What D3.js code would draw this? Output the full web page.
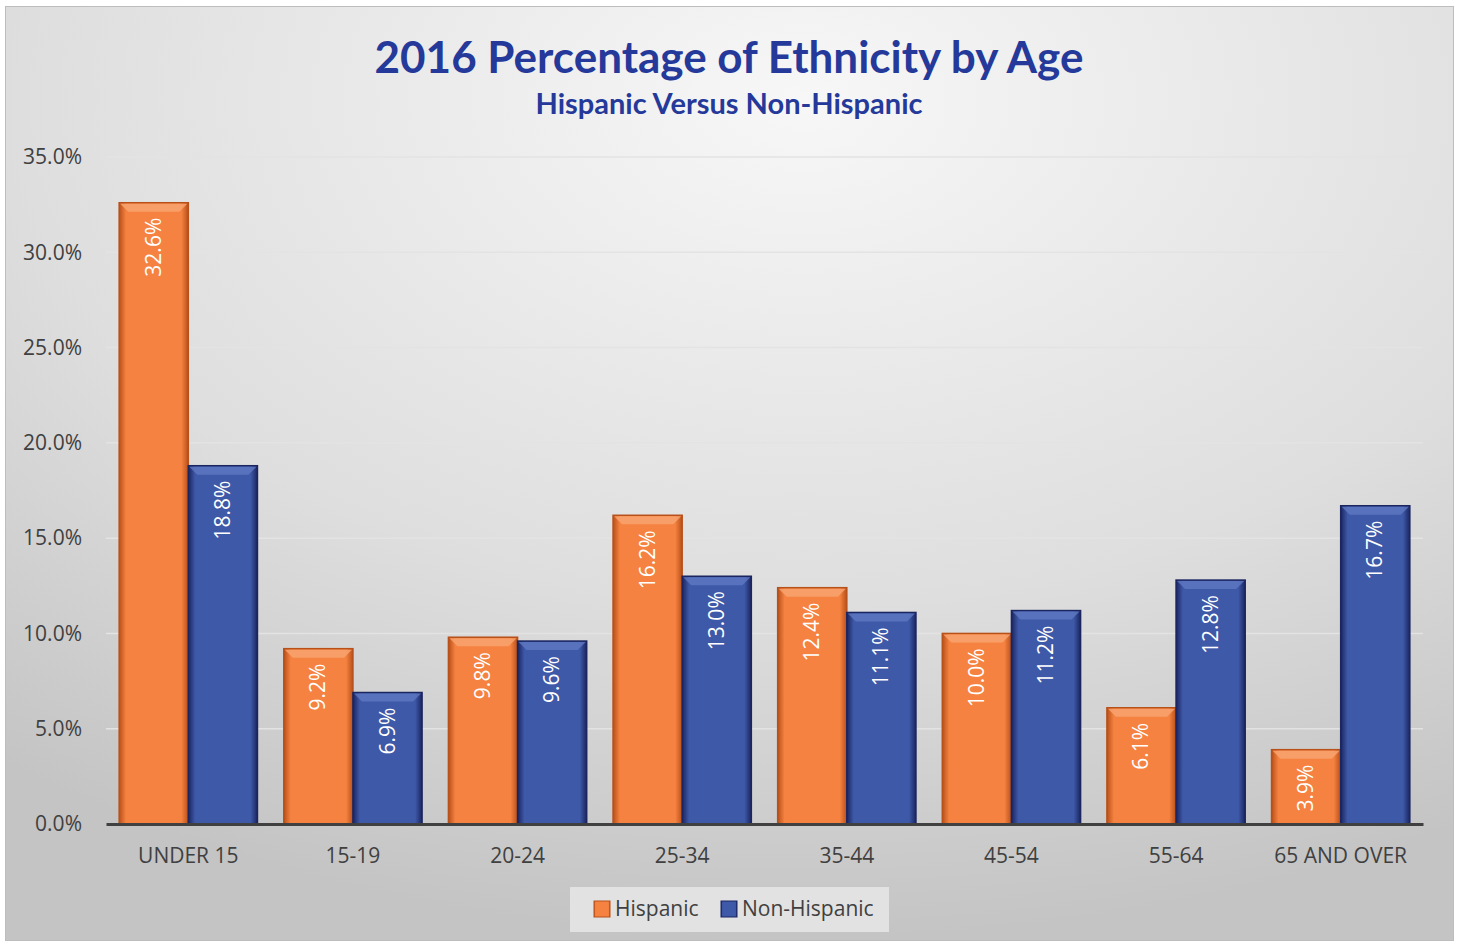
<!DOCTYPE html>
<html>
<head>
<script src="https://d3js.org/d3.v7.min.js"></script>
<style>
  body { margin: 0; background: #fff; }
  .tick text { font-family: "Open Sans", sans-serif; fill: #404040; }
</style>
</head>
<body>
<svg width="1459" height="941"></svg>
<script>
var categories = ["UNDER 15", "15-19", "20-24", "25-34", "35-44", "45-54", "55-64", "65 AND OVER"];
var seriesNames = ["Hispanic", "Non-Hispanic"];
var hispanic = [32.6, 9.2, 9.8, 16.2, 12.4, 10.0, 6.1, 3.9];
var nonHispanic = [18.8, 6.9, 9.6, 13.0, 11.1, 11.2, 12.8, 16.7];
var yTicks = [0, 5, 10, 15, 20, 25, 30, 35];

var svg = d3.select("svg");
var defs = svg.append("defs");

// chart background
var bg = defs.append("radialGradient").attr("id", "bg")
  .attr("cx", "0.55").attr("cy", "0.1").attr("r", "0.9");
bg.append("stop").attr("offset", "0").attr("stop-color", "#f7f7f7");
bg.append("stop").attr("offset", "0.6").attr("stop-color", "#dedede");
bg.append("stop").attr("offset", "1").attr("stop-color", "#c4c4c4");

svg.append("rect").attr("x", 5.5).attr("y", 6.5).attr("width", 1448).attr("height", 934)
  .attr("fill", "url(#bg)").attr("stroke", "#bdbdbd").attr("stroke-width", 1);

var colors = {
  "Hispanic": { main: "#f58240", dark: "#b8501a", light: "#f9a673" },
  "Non-Hispanic": { main: "#3e59a8", dark: "#1b2560", light: "#5f78c2" }
};

seriesNames.forEach(function(s, i) {
  var g = defs.append("linearGradient").attr("id", "grad" + i)
    .attr("x1", "0").attr("x2", "1").attr("y1", "0").attr("y2", "0");
  g.append("stop").attr("offset", "0").attr("stop-color", colors[s].dark);
  g.append("stop").attr("offset", "0.1").attr("stop-color", colors[s].main);
  g.append("stop").attr("offset", "0.9").attr("stop-color", colors[s].main);
  g.append("stop").attr("offset", "1").attr("stop-color", colors[s].dark);
});

var margin = { left: 106, right: 36, top: 157, bottom: 117 };
var width = 1459 - margin.left - margin.right;
var height = 941 - margin.top - margin.bottom;

var x0 = d3.scaleBand().domain(categories).range([0, width]).paddingInner(0.16).paddingOuter(0.08);
var x1 = d3.scaleBand().domain(seriesNames).range([0, x0.bandwidth()]);
var y = d3.scaleLinear().domain([0, 35]).range([height, 0]);

var g = svg.append("g").attr("transform", "translate(" + margin.left + "," + margin.top + ")");

// gridlines
g.selectAll(".grid").data(yTicks.slice(1)).enter().append("line")
  .attr("x1", 0).attr("x2", width)
  .attr("y1", function(d) { return y(d); }).attr("y2", function(d) { return y(d); })
  .attr("stroke", "#e3e3e3").attr("stroke-width", 1.5);

// y axis
var yAxis = g.append("g")
  .call(d3.axisLeft(y).tickValues(yTicks).tickFormat(function(d) { return d.toFixed(1) + "%"; }).tickSize(0).tickPadding(24));
yAxis.select(".domain").remove();
yAxis.selectAll("text").attr("font-size", "21px");

var rows = categories.map(function(c, i) {
  return { cat: c, vals: [{ s: "Hispanic", v: hispanic[i] }, { s: "Non-Hispanic", v: nonHispanic[i] }] };
});

var groups = g.selectAll(".grp").data(rows).enter().append("g")
  .attr("transform", function(d) { return "translate(" + x0(d.cat) + ",0)"; });

var bars = groups.selectAll(".bar").data(function(d) { return d.vals; }).enter().append("g");

bars.append("rect")
  .attr("x", function(d) { return x1(d.s); })
  .attr("y", function(d) { return y(d.v); })
  .attr("width", x1.bandwidth())
  .attr("height", function(d) { return height - y(d.v); })
  .attr("fill", function(d) { return "url(#grad" + seriesNames.indexOf(d.s) + ")"; })
  .attr("stroke", function(d) { return colors[d.s].dark; })
  .attr("stroke-width", 1.5);

// top bevel
bars.append("path")
  .attr("d", function(d) {
    var bx = x1(d.s), by = y(d.v), w = x1.bandwidth(), b = 9;
    return "M" + (bx + 1) + "," + (by + 1) + "L" + (bx + w - 1) + "," + (by + 1) +
      "L" + (bx + w - b) + "," + (by + b) + "L" + (bx + b) + "," + (by + b) + "Z";
  })
  .attr("fill", function(d) { return colors[d.s].light; })
  .attr("opacity", 0.8);

// data labels
bars.append("text")
  .attr("transform", function(d) {
    return "translate(" + (x1(d.s) + x1.bandwidth() / 2 + 7) + "," + (y(d.v) + 15) + ") rotate(-90)";
  })
  .attr("text-anchor", "end")
  .attr("font-family", "Open Sans, sans-serif")
  .attr("font-size", "21px")
  .attr("fill", "#ffffff")
  .text(function(d) { return d.v.toFixed(1) + "%"; });

// x axis
var xAxis = g.append("g").attr("transform", "translate(0," + height + ")")
  .call(d3.axisBottom(x0).tickSize(0).tickPadding(24));
xAxis.select(".domain").attr("stroke", "#404040").attr("stroke-width", 3);
xAxis.selectAll("text").attr("font-size", "21px");

// titles
svg.append("text").attr("x", 729).attr("y", 73).attr("text-anchor", "middle")
  .attr("font-family", "Lato, sans-serif").attr("font-weight", "bold").attr("font-size", "44px")
  .attr("fill", "#24399a").text("2016 Percentage of Ethnicity by Age");
svg.append("text").attr("x", 729).attr("y", 114).attr("text-anchor", "middle")
  .attr("font-family", "Lato, sans-serif").attr("font-weight", "bold").attr("font-size", "29px")
  .attr("fill", "#24399a").text("Hispanic Versus Non-Hispanic");

// legend
var lg = svg.append("g");
lg.append("rect").attr("x", 570).attr("y", 887).attr("width", 319).attr("height", 45).attr("fill", "#e2e2e2");
var legendX = [594, 721];
seriesNames.forEach(function(s, i) {
  lg.append("rect").attr("x", legendX[i]).attr("y", 901).attr("width", 16).attr("height", 16)
    .attr("fill", "url(#grad" + i + ")").attr("stroke", colors[s].dark);
  lg.append("text").attr("x", legendX[i] + 21).attr("y", 916)
    .attr("font-family", "Open Sans, sans-serif").attr("font-size", "21px").attr("fill", "#404040")
    .text(s);
});
</script>
</body>
</html>
